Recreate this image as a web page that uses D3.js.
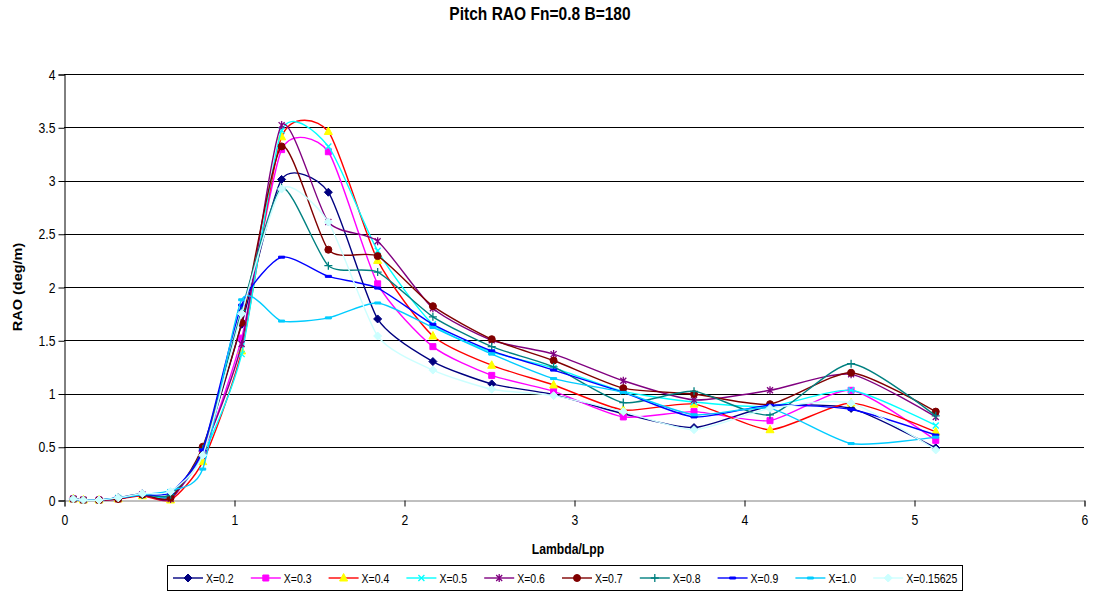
<!DOCTYPE html>
<html>
<head>
<meta charset="utf-8">
<script src="https://cdn.jsdelivr.net/npm/d3@7/dist/d3.min.js"></script>
<style>
  html, body { margin: 0; padding: 0; background: #fff; }
  svg { display: block; font-family: "Liberation Sans", Arial, sans-serif; }
</style>
</head>
<body>
<svg id="chart" width="1094" height="592"></svg>
<script>
// Wave length ratio (lambda / Lpp) sampled for every run
const lambdaLpp = [0.055, 0.114, 0.206, 0.319, 0.461, 0.627, 0.816, 1.045, 1.28, 1.555,
                   1.845, 2.17, 2.516, 2.88, 3.29, 3.706, 4.153, 4.63, 5.128];

// Pitch RAO (deg/m) for each longitudinal position X
const raoX020 = [0.01, 0, 0, 0.02, 0.06, 0.03, 0.46, 1.65, 3.01, 2.89, 1.70, 1.30, 1.09, 0.99, 0.81, 0.68, 0.88, 0.86, 0.49];
const raoX030 = [0.01, 0, 0, 0.01, 0.05, 0.02, 0.44, 1.52, 3.29, 3.27, 2.03, 1.44, 1.17, 1.02, 0.78, 0.83, 0.745, 1.03, 0.56];
const raoX040 = [0.01, 0, 0, 0.01, 0.04, 0.00, 0.36, 1.40, 3.41, 3.46, 2.25, 1.54, 1.265, 1.08, 0.845, 0.90, 0.66, 0.91, 0.64];
const raoX050 = [0.01, 0, 0, 0.02, 0.05, 0.03, 0.42, 1.37, 3.47, 3.32, 2.34, 1.65, 1.39, 1.24, 1.02, 0.92, 0.88, 1.03, 0.70];
const raoX060 = [0.01, 0, 0, 0.01, 0.05, 0.01, 0.46, 1.465, 3.52, 2.61, 2.43, 1.80, 1.50, 1.37, 1.12, 0.94, 1.03, 1.18, 0.78];
const raoX070 = [0.01, 0, 0, 0.01, 0.05, 0.02, 0.50, 1.665, 3.32, 2.35, 2.29, 1.82, 1.51, 1.31, 1.05, 0.995, 0.90, 1.195, 0.83];
const raoX080 = [0.01, 0, 0, 0.02, 0.05, 0.05, 0.48, 1.78, 2.93, 2.20, 2.14, 1.72, 1.44, 1.25, 0.915, 1.02, 0.80, 1.28, 0.79];
const raoX090 = [0.01, 0, 0, 0.02, 0.05, 0.07, 0.47, 1.83, 2.28, 2.10, 1.99, 1.65, 1.40, 1.22, 1.01, 0.78, 0.89, 0.85, 0.61];
const raoX100 = [0.01, 0, 0, 0.02, 0.05, 0.09, 0.29, 1.88, 1.68, 1.71, 1.85, 1.62, 1.37, 1.14, 1.01, 0.80, 0.86, 0.53, 0.59];
const raoX015625 = [0.01, 0, 0, 0.02, 0.06, 0.08, 0.42, 1.75, 2.92, 2.61, 1.54, 1.22, 1.04, 0.98, 0.83, 0.66, 0.86, 0.91, 0.47];

const seriesNames = ["X=0.2", "X=0.3", "X=0.4", "X=0.5", "X=0.6", "X=0.7", "X=0.8", "X=0.9", "X=1.0", "X=0.15625"];
const seriesValues = [raoX020, raoX030, raoX040, raoX050, raoX060, raoX070, raoX080, raoX090, raoX100, raoX015625];

const xTicks = [0, 1, 2, 3, 4, 5, 6];
const yTicks = [0, 0.5, 1, 1.5, 2, 2.5, 3, 3.5, 4];

// Line colour, marker shape and marker colour per series
const styles = [
  { line: "#000080", marker: "diamond", fill: "#000080", stroke: "#000080" },
  { line: "#FF00FF", marker: "square",  fill: "#FF00FF", stroke: "#FF00FF" },
  { line: "#FF0000", marker: "triangle", fill: "#FFFF00", stroke: "#FFFF00" },
  { line: "#00FFFF", marker: "x",       fill: "none",    stroke: "#00FFFF" },
  { line: "#800080", marker: "star",    fill: "none",    stroke: "#800080" },
  { line: "#800000", marker: "circle",  fill: "#800000", stroke: "#800000" },
  { line: "#008080", marker: "plus",    fill: "none",    stroke: "#008080" },
  { line: "#0000FF", marker: "dash",    fill: "#0000FF", stroke: "#0000FF" },
  { line: "#00CCFF", marker: "dash",    fill: "#00CCFF", stroke: "#00CCFF" },
  { line: "#CCFFFF", marker: "diamond", fill: "#CCFFFF", stroke: "#CCFFFF" }
];

// Text is drawn slightly condensed horizontally
const SQUEEZE = 0.84;

const svg = d3.select("#chart");
const plot = { left: 64, right: 1084, top: 74, bottom: 500 };

const x = d3.scaleLinear().domain([0, 6]).range([plot.left, plot.right]);
const y = d3.scaleLinear().domain([0, 4]).range([plot.bottom, plot.top]);

function squeezedText(parent, px, py, str, size, bold, anchor) {
  return parent.append("text")
    .attr("transform", `translate(${px},${py}) scale(${SQUEEZE},1)`)
    .attr("text-anchor", anchor || "start")
    .attr("font-size", size)
    .attr("font-weight", bold ? "bold" : "normal")
    .text(str);
}

// Title
squeezedText(svg, 540, 20, "Pitch RAO Fn=0.8 B=180", 18.5, true, "middle");

// Horizontal gridlines
svg.append("g")
  .selectAll("line")
  .data(yTicks.filter(d => d > 0))
  .join("line")
  .attr("x1", plot.left).attr("x2", plot.right)
  .attr("y1", d => Math.round(y(d)) + 0.5).attr("y2", d => Math.round(y(d)) + 0.5)
  .attr("stroke", "#000").attr("stroke-width", 1);

// Axes
const yAxis = d3.axisLeft(y).tickValues(yTicks).tickSize(6).tickPadding(4)
  .tickFormat(d => d3.format("")(d));
const gy = svg.append("g")
  .attr("transform", `translate(${plot.left + 0.5},0.5)`)
  .call(yAxis);
gy.selectAll(".tick text")
  .attr("font-size", 14.5).attr("fill", "#000")
  .attr("font-family", "Liberation Sans, Arial, sans-serif")
  .attr("x", -9 / SQUEEZE)
  .attr("transform", `scale(${SQUEEZE},1)`);
gy.select(".domain").attr("stroke", "#000");

const xAxis = d3.axisBottom(x).tickValues(xTicks).tickSize(6).tickPadding(8)
  .tickFormat(d3.format("d"));
const gx = svg.append("g")
  .attr("transform", `translate(0.5,${plot.bottom + 0.5})`)
  .call(xAxis);
gx.selectAll(".tick text")
  .attr("font-size", 14.5).attr("fill", "#000")
  .attr("font-family", "Liberation Sans, Arial, sans-serif")
  .attr("transform", `scale(${SQUEEZE},1)`);
gx.select(".domain").attr("stroke", "#808080");

// Axis titles
svg.append("text")
  .attr("transform", `translate(22,${(plot.top + plot.bottom) / 2}) rotate(-90) scale(1,${SQUEEZE})`)
  .attr("text-anchor", "middle")
  .attr("font-size", 14.5).attr("font-weight", "bold")
  .text("RAO (deg/m)");
squeezedText(svg, 568, 554, "Lambda/Lpp", 14.5, true, "middle");

// Marker path generator, in pixels around (0,0)
function markerPath(kind, s) {
  const h = s / 2;
  switch (kind) {
    case "diamond":
      return `M0,${-h - 1}L${h + 1},0L0,${h + 1}L${-h - 1},0Z`;
    case "square":
      return `M${-h},${-h}H${h}V${h}H${-h}Z`;
    case "triangle":
      return `M0,${-h - 1.5}L${h + 1},${h}L${-h - 1},${h}Z`;
    case "circle":
      return d3.symbol(d3.symbolCircle, Math.PI * (h + 0.5) * (h + 0.5))();
    case "x":
      return `M${-h},${-h}L${h},${h}M${-h},${h}L${h},${-h}`;
    case "star":
      return `M${-h},${-h}L${h},${h}M${-h},${h}L${h},${-h}M0,${-h - 1}L0,${h + 1}`;
    case "plus":
      return `M${-h - 1},0H${h + 1}M0,${-h - 1}V${h + 1}`;
    case "dash":
      return `M${-h},-1H${h}V1H${-h}Z`;
  }
}

// Smoothed series lines
const line = d3.line()
  .x(d => x(d[0]))
  .y(d => y(d[1]))
  .curve(d3.curveCardinal.tension(0.35));

const plotG = svg.append("g");
seriesValues.forEach((vals, i) => {
  const st = styles[i];
  const pts = lambdaLpp.map((lx, k) => [lx, vals[k]]);
  const g = plotG.append("g").attr("class", "series");
  g.append("path")
    .datum(pts)
    .attr("d", line)
    .attr("fill", "none")
    .attr("stroke", st.line)
    .attr("stroke-width", 1.4);
  g.selectAll("path.mk")
    .data(pts)
    .join("path")
    .attr("class", "mk")
    .attr("transform", d => `translate(${x(d[0])},${y(d[1])})`)
    .attr("d", markerPath(st.marker, 6))
    .attr("fill", st.fill)
    .attr("stroke", st.stroke)
    .attr("stroke-width", st.fill === "none" ? 1.3 : 1);
});

// Legend
const legend = { left: 167, top: 565, width: 795, height: 25 };
svg.append("rect")
  .attr("x", legend.left + 0.5).attr("y", legend.top + 0.5)
  .attr("width", legend.width).attr("height", legend.height)
  .attr("fill", "#fff").attr("stroke", "#000");

const entryW = 77.8;
const lg = svg.append("g");
seriesNames.forEach((name, i) => {
  const st = styles[i];
  const ex = legend.left + 6 + i * entryW;
  const cy = legend.top + legend.height / 2 + 0.5;
  lg.append("line")
    .attr("x1", ex).attr("x2", ex + 30)
    .attr("y1", cy).attr("y2", cy)
    .attr("stroke", st.line).attr("stroke-width", 1.4);
  lg.append("path")
    .attr("transform", `translate(${ex + 15},${cy})`)
    .attr("d", markerPath(st.marker, 6))
    .attr("fill", st.fill).attr("stroke", st.stroke)
    .attr("stroke-width", st.fill === "none" ? 1.3 : 1);
  squeezedText(lg, ex + 33, cy + 4.5, name, 12.5, false, "start");
});
</script>
</body>
</html>
